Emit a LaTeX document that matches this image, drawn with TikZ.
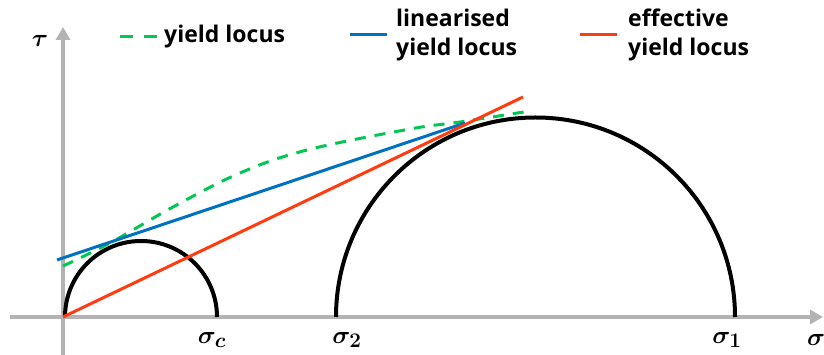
\documentclass[tikz,border=0pt]{standalone}
\usepackage{amsmath,amssymb,bm}
\usepackage{fontspec}
\setmainfont{Open Sans}
\usepackage{xcolor}
\usepackage{tikz}
\usetikzlibrary{calc,arrows.meta,positioning}
\definecolor{axisgray}{HTML}{B3B3B3}
\definecolor{greenx}{HTML}{00C853}
\definecolor{bluex}{HTML}{0070C0}
\definecolor{redx}{HTML}{FF3B0F}
\tikzset{
  axis/.style={-{Triangle[length=13pt,width=14pt]},line width=4pt,axisgray},
  mohr/.style={line width=4pt,black},
  locus/.style={line width=3pt,greenx,dash pattern=on 11pt off 9pt},
  linlocus/.style={line width=3pt,bluex},
  efflocus/.style={line width=3pt,redx},
  legtext/.style={font=\fontsize{23}{29}\selectfont\bfseries,align=left,anchor=west,inner sep=0pt},
  lab/.style={font=\fontsize{28}{32}\selectfont,inner sep=0pt}
}
\begin{document}
\begin{tikzpicture}[x=1pt,y=1pt]
\useasboundingbox (0,0) rectangle (824,355);
\coordinate (O) at (63,38);
\draw[axis] (63,0)--(63,328);
\draw[axis] (10,38)--(823,38);
\node[lab] (tau) at (40,314) {$\bm{\tau}$};
\node[lab] (sig) at (816,15) {$\bm{\sigma}$};
% Mohr circles
\draw[mohr] (65,38) arc (180:0:76);
\draw[mohr] (336,38) arc (180:0:199.5);
\node[lab] (sc) at (212,15) {$\bm{\sigma_c}$};
\node[lab] (s2) at (347,15) {$\bm{\sigma_2}$};
\node[lab] (s1) at (727,15) {$\bm{\sigma_1}$};
% yield loci
\draw[locus] plot[smooth,tension=0.6] coordinates {(63,89) (110,112) (173,148) (240,182) (307,205) (410,226) (460,233) (530,244)};
\draw[linlocus] (57,95)--(465,232);
\draw[efflocus] (O)--(523,258);
% legend
\draw[locus,dash pattern=on 13pt off 11pt] (120,318)--(158,318);
\node[legtext] (l1) at (164,318) {yield locus};
\draw[linlocus] (350,320)--(387,320);
\node[legtext] (l2) at (396,320) {linearised\\yield locus};
\draw[efflocus] (580,320)--(617,320);
\node[legtext] (l3) at (628,320) {effective\\yield locus};
\end{tikzpicture}
\end{document}
